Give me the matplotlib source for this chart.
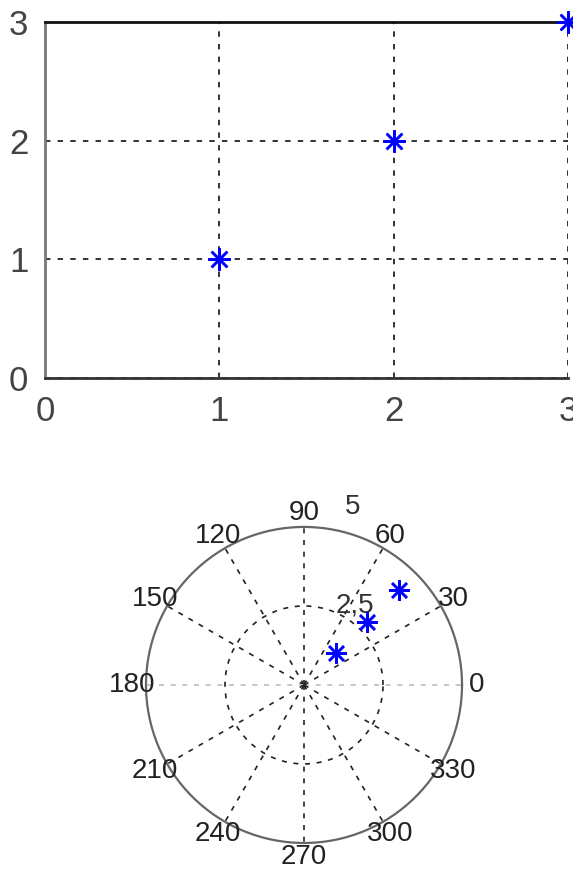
import numpy as np
import matplotlib
matplotlib.use("Agg")
import matplotlib.pyplot as plt

# data
x = [1, 2, 3]
y = [1, 2, 3]
xticks = [0, 1, 2, 3]
yticks = [0, 1, 2, 3]
theta_ticks = list(range(0, 360, 30))
r_ticks = [2.5, 5]
r_labels = ["2,5", "5"]

plt.rcParams['font.family'] = ['Liberation Sans', 'DejaVu Sans']

fig = plt.figure(figsize=(5.73, 8.72), dpi=100)

# cartesian plot
ax1 = fig.add_axes([0.0785, 0.5665, 0.9127, 0.4083])
ax1.plot(x, y, linestyle='none', marker=(8, 2, 0), markersize=16,
         markeredgewidth=1.8, color='blue', clip_on=False, zorder=5)
ax1.set_xlim(0, 3)
ax1.set_ylim(0, 3)
ax1.set_xticks(xticks)
ax1.set_yticks(yticks)
ax1.grid(True, color='#222222', linestyle=(0, (3, 4)), linewidth=1.3)
ax1.tick_params(labelsize=25, length=0, pad=12, labelcolor='#444444')
ax1.spines['top'].set_color('#111111')
ax1.spines['bottom'].set_color('#333333')
ax1.spines['left'].set_color('#777777')
ax1.spines['right'].set_visible(False)
for s in ['top', 'bottom', 'left']:
    ax1.spines[s].set_linewidth(2)

# polar plot of the same points
th = np.arctan2(y, x)
r = np.hypot(x, y)
ax2 = fig.add_axes([0.2548, 0.0333, 0.5515, 0.3624], projection='polar')
ax2.plot(th, r, linestyle='none', marker=(8, 2, 0), markersize=15,
         markeredgewidth=1.8, color='blue', zorder=5)
ax2.set_ylim(0, 5)
ax2.set_thetagrids(theta_ticks, labels=[])
ax2.set_yticks(r_ticks)
ax2.set_yticklabels([])
ax2.grid(True, color='#222222', linestyle=(0, (3, 4)), linewidth=1.2)
gl = ax2.xaxis.get_gridlines()
for i in [0, 6]:
    gl[i].set_color('#bbbbbb')
ax2.yaxis.get_gridlines()[-1].set_visible(False)
ax2.spines['polar'].set_color('#666666')
ax2.spines['polar'].set_linewidth(1.6)
for t in theta_ticks:
    ax2.text(np.radians(t), 5.45, str(t), fontsize=20, color='#222222',
             ha='center', va='center', clip_on=False)
ax2.text(np.radians(57.5), 3.0, r_labels[0], fontsize=20, color='#333333',
         ha='center', va='center')
ax2.text(np.radians(74.6), 5.85, r_labels[1], fontsize=20, color='#333333',
         ha='center', va='center', clip_on=False)

fig.savefig("out.png", dpi=100)
